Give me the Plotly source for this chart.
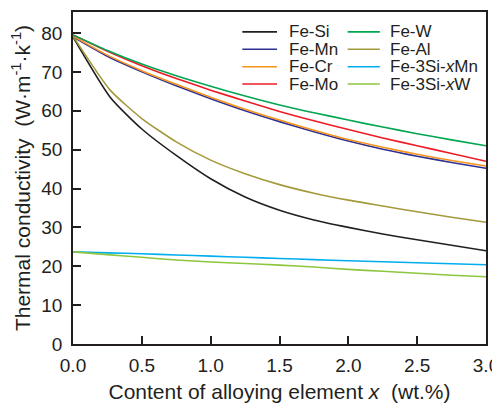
import plotly.graph_objects as go

# ---------------- data ----------------
x_std = [0.0, 0.25, 0.5, 0.75, 1.0, 1.25, 1.5, 1.75, 2.0, 2.25, 2.5, 2.75, 3.0]
x_kink = [0.0, 0.27, 0.5, 0.75, 1.0, 1.25, 1.5, 1.75, 2.0, 2.25, 2.5, 2.75, 3.0]

fe_si = [79.0, 63.5, 55.3, 48.5, 42.5, 37.8, 34.4, 31.9, 30.0, 28.3, 26.8, 25.4, 24.0]
fe_al = [79.2, 65.3, 58.0, 52.0, 47.3, 43.8, 41.0, 38.8, 37.0, 35.5, 34.0, 32.6, 31.3]
fe_mn = [79.0, 74.0, 70.0, 66.4, 63.1, 60.0, 57.2, 54.6, 52.2, 50.1, 48.3, 46.7, 45.2]
fe_cr = [79.2, 74.3, 70.3, 66.8, 63.5, 60.4, 57.6, 55.0, 52.6, 50.6, 48.8, 47.2, 45.8]
fe_mo = [79.5, 75.3, 71.6, 68.3, 65.3, 62.5, 59.8, 57.4, 55.2, 53.0, 51.0, 49.0, 47.0]
fe_w = [79.5, 75.5, 72.0, 69.0, 66.3, 63.8, 61.5, 59.5, 57.6, 55.8, 54.1, 52.5, 51.0]
fe3si_mn = [23.7, 23.45, 23.2, 22.9, 22.6, 22.3, 22.0, 21.7, 21.4, 21.15, 20.9, 20.65, 20.4]
fe3si_w = [23.7, 23.0, 22.3, 21.6, 21.1, 20.7, 20.3, 19.8, 19.2, 18.7, 18.2, 17.7, 17.3]

names = ["Fe-Si", "Fe-Mn", "Fe-Cr", "Fe-Mo",
         "Fe-W", "Fe-Al", "Fe-3Si-<i>x</i>Mn", "Fe-3Si-<i>x</i>W"]
xs = [x_kink, x_std, x_std, x_std, x_std, x_kink, x_std, x_std]
ys = [fe_si, fe_mn, fe_cr, fe_mo, fe_w, fe_al, fe3si_mn, fe3si_w]
colors = ["#231f20", "#2e3192", "#f7941d", "#ed1c24",
          "#00a651", "#a39a3c", "#00aeef", "#8dc63f"]

x_ticks = [0.0, 0.5, 1.0, 1.5, 2.0, 2.5, 3.0]
y_ticks = [0, 10, 20, 30, 40, 50, 60, 70, 80]

FONT = "Liberation Sans, Arial, sans-serif"
AX = "#231f20"

fig = go.Figure()
for nm, xv, yv, c in zip(names, xs, ys, colors):
    fig.add_trace(go.Scatter(x=xv, y=yv, mode="lines", name=nm,
                             line=dict(color=c, width=1.6, shape="spline", smoothing=0.6),
                             showlegend=False))

# manual two-column legend (compact row spacing as in reference)
col_x = [(0.41, 0.494, 0.518), (0.665, 0.743, 0.762)]  # line start, line end, text start (paper)
row_y = [0.94, 0.888, 0.835, 0.783]
for i, (nm, c) in enumerate(zip(names, colors)):
    col, row = divmod(i, 4)
    x0, x1, xt = col_x[col]
    fig.add_shape(type="line", xref="paper", yref="paper", x0=x0, x1=x1,
                  y0=row_y[row], y1=row_y[row], line=dict(color=c, width=1.6))
    fig.add_annotation(xref="paper", yref="paper", x=xt, y=row_y[row], text=nm,
                       showarrow=False, xanchor="left", yanchor="middle",
                       font=dict(family=FONT, size=17, color=AX))

fig.update_layout(
    width=492, height=396,
    margin=dict(l=65, r=14, t=4, b=60),
    paper_bgcolor="white", plot_bgcolor="white",
    font=dict(family=FONT, size=18, color=AX),
)
fig.update_xaxes(range=[0, 3], tickvals=x_ticks, ticktext=[f"{v:.1f}" for v in x_ticks],
                 ticks="inside", ticklen=8, tickwidth=1.5, tickcolor=AX,
                 showline=True, linewidth=1.8, linecolor=AX, mirror=True,
                 showgrid=False, zeroline=False, automargin=False,
                 ticklabelstandoff=3,
                 tickfont=dict(family=FONT, size=19, color=AX),
                 title=dict(text="Content of alloying element <i>x</i>  (wt.%)",
                            font=dict(family=FONT, size=21, color=AX), standoff=10))
fig.update_yaxes(range=[0, 85.4], tickvals=y_ticks,
                 ticks="inside", ticklen=8, tickwidth=1.5, tickcolor=AX,
                 showline=True, linewidth=1.8, linecolor=AX, mirror=True,
                 showgrid=False, zeroline=False, automargin=False,
                 ticklabelstandoff=5,
                 tickfont=dict(family=FONT, size=19, color=AX),
                 title=dict(text="Thermal conductivity  (W·m<sup>-1</sup>·k<sup>-1</sup>)",
                            font=dict(family=FONT, size=21, color=AX), standoff=29))

fig.write_html("out.html")
